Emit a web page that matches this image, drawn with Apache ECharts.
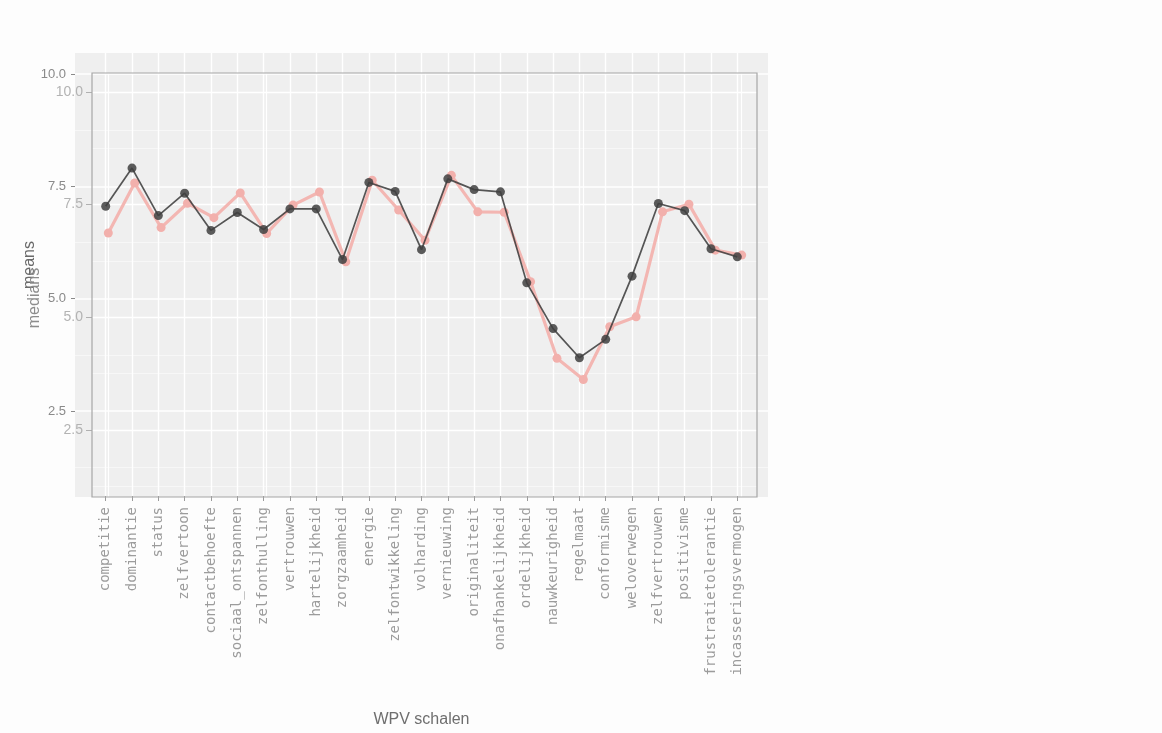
<!DOCTYPE html>
<html><head><meta charset="utf-8">
<script src="https://cdn.jsdelivr.net/npm/echarts@6/dist/echarts.min.js"></script>
<style>html,body{margin:0;padding:0;background:#fdfdfd}#c{width:1162px;height:733px}</style>
</head><body><div id="c"></div>
<script>
const categories = ["competitie","dominantie","status","zelfvertoon","contactbehoefte","sociaal_ontspannen","zelfonthulling","vertrouwen","hartelijkheid","zorgzaamheid","energie","zelfontwikkeling","volharding","vernieuwing","originaliteit","onafhankelijkheid","ordelijkheid","nauwkeurigheid","regelmaat","conformisme","weloverwegen","zelfvertrouwen","positivisme","frustratietolerantie","incasseringsvermogen"];
const means   = [7.05,7.90,6.84,7.34,6.51,6.91,6.53,6.99,6.99,5.86,7.58,7.38,6.08,7.66,7.42,7.37,5.34,4.32,3.67,4.08,5.49,7.11,6.95,6.10,5.92];
const medians = [6.87,7.98,6.99,7.53,7.21,7.76,6.86,7.49,7.78,6.23,8.04,7.38,6.71,8.15,7.34,7.33,5.79,4.09,3.62,4.79,5.01,7.34,7.51,6.49,6.38];
const majorTicks = [2.5,5,7.5,10];
const minorTicks = [1.25,3.75,6.25,8.75];
const meansRange = [0.586,10.467];
const mediansRange = [1.013,10.42];

const chart = echarts.init(document.getElementById('c'), null, {renderer:'canvas'});
const fmt = v => Number(v).toFixed(1);
const white = '#FFFFFF';
chart.setOption({
  animation:false,
  backgroundColor:'#fdfdfd',
  grid:[
    {left:75, top:53, right:394, bottom:236, show:true, backgroundColor:'#EFEFEF', borderWidth:0, z:0},
    {left:105.7, top:53, right:424.7, bottom:236},
    {left:92, top:73, right:405, bottom:236, show:true, backgroundColor:'rgba(0,0,0,0)', borderColor:'#A6A6A6', borderWidth:1.2, z:3},
    {left:108.3, top:73, right:420.3, bottom:236}
  ],
  xAxis:[
    {gridIndex:0, type:'category', data:categories, show:false},
    {gridIndex:1, type:'category', data:categories, boundaryGap:false,
     axisLine:{show:false},
     axisTick:{show:true, length:5, lineStyle:{color:'#9a9a9a', width:1}},
     axisLabel:{rotate:90, margin:11, color:'#9c9c9c', fontFamily:'DejaVu Sans Mono', fontSize:14, interval:0},
     splitLine:{show:true, lineStyle:{color:white, width:1.4}},
     name:'WPV schalen', nameLocation:'middle', nameGap:216,
     nameTextStyle:{color:'#6e6e6e', fontSize:16, fontFamily:'Liberation Sans'}},
    {gridIndex:2, type:'category', data:categories, show:false},
    {gridIndex:3, type:'category', data:categories, boundaryGap:false,
     axisLine:{show:false}, axisTick:{show:false}, axisLabel:{show:false},
     splitLine:{show:true, lineStyle:{color:white, width:1.2}}}
  ],
  yAxis:[
    {gridIndex:0, type:'value', min:meansRange[0], max:meansRange[1],
     axisLine:{show:false},
     axisTick:{show:true, length:4, customValues:majorTicks, lineStyle:{color:'#8a8a8a'}},
     axisLabel:{customValues:majorTicks, formatter:fmt, margin:9, color:'#8a8a8a', fontSize:13, fontFamily:'Liberation Sans'},
     splitLine:{show:true, lineStyle:{color:white, width:1.6}}},
    {gridIndex:0, type:'value', min:meansRange[0], max:meansRange[1],
     axisLine:{show:false},
     axisTick:{show:false, customValues:minorTicks},
     axisLabel:{show:false, customValues:minorTicks},
     splitLine:{show:true, lineStyle:{color:'#F7F7F7', width:1}}},
    {gridIndex:1, type:'value', min:meansRange[0], max:meansRange[1], show:false},
    {gridIndex:2, type:'value', min:mediansRange[0], max:mediansRange[1],
     axisLine:{show:false},
     axisTick:{show:true, length:6, customValues:majorTicks, lineStyle:{color:'#B0B0B0'}},
     axisLabel:{customValues:majorTicks, formatter:fmt, margin:9, color:'#B3B3B3', fontSize:14, fontFamily:'Liberation Sans'},
     splitLine:{show:true, lineStyle:{color:white, width:1.4}}},
    {gridIndex:2, type:'value', min:mediansRange[0], max:mediansRange[1],
     axisLine:{show:false},
     axisTick:{show:false, customValues:minorTicks},
     axisLabel:{show:false, customValues:minorTicks},
     splitLine:{show:true, lineStyle:{color:'#F7F7F7', width:1}}},
    {gridIndex:3, type:'value', min:mediansRange[0], max:mediansRange[1], show:false}
  ],
  graphic:[
    {type:'text', x:30, y:265, rotation:Math.PI/2, z:10,
     style:{text:'means', fill:'#6a6a6a', font:'16px "Liberation Sans"', align:'center', verticalAlign:'middle'}},
    {type:'text', x:35, y:298, rotation:Math.PI/2, z:10,
     style:{text:'medians', fill:'#8c8c8c', font:'16px "Liberation Sans"', align:'center', verticalAlign:'middle'}}
  ],
  series:[
    {name:'medians', type:'line', xAxisIndex:3, yAxisIndex:5, data:medians, z:4,
     symbol:'circle', symbolSize:9,
     lineStyle:{color:'#F3B6B2', width:3.2},
     itemStyle:{color:'#F2B0AC'}},
    {name:'means', type:'line', xAxisIndex:1, yAxisIndex:2, data:means, z:5,
     symbol:'circle', symbolSize:9,
     lineStyle:{color:'#3a3a3a', width:1.7, opacity:0.85},
     itemStyle:{color:'#3f3f3f', opacity:0.85}}
  ]
});
</script></body></html>
